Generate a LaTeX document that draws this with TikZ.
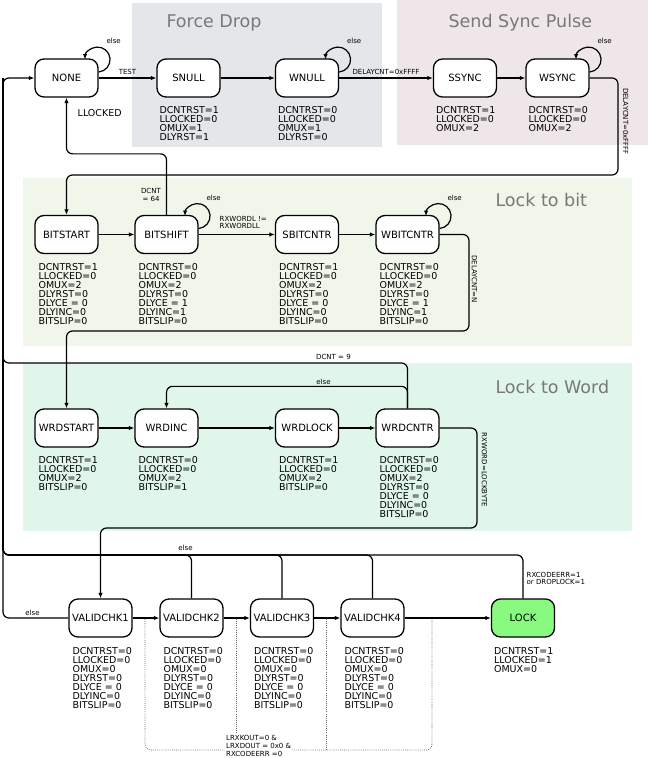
\documentclass[tikz,border=0pt]{standalone}
\usepackage{fontspec}
\setmainfont{DejaVu Sans}
\usetikzlibrary{arrows.meta,positioning,calc}
\definecolor{dropbg}{RGB}{227,231,234}
\definecolor{syncbg}{RGB}{239,230,233}
\definecolor{bitbg}{RGB}{241,246,234}
\definecolor{wordbg}{RGB}{224,246,235}
\definecolor{lockgreen}{RGB}{136,250,128}
\definecolor{titlegray}{RGB}{120,120,120}

\begin{document}
\begin{tikzpicture}[x=1pt,y=1pt,
    >={Latex[length=5.5pt,width=4.5pt]},
    statebox/.style={draw, fill=white, line width=1.3pt, rounded corners=9pt,
      minimum width=63pt, minimum height=38pt, inner sep=1pt,
      font=\fontsize{10}{12}\selectfont},
    attrs/.style={anchor=north west, align=left, inner sep=0pt,
      font=\fontsize{9.5}{9}\selectfont},
    lbl/.style={inner sep=0.5pt, font=\fontsize{7}{7.5}\selectfont},
    conn/.style={line width=1.2pt, rounded corners=6pt},
    cond/.style={draw=black!60, line width=0.7pt, dash pattern=on 0.8pt off 1.3pt, rounded corners=6pt},
    grouptitle/.style={anchor=base west, text=titlegray, font=\fontsize{17.5}{20}\selectfont}]
  \useasboundingbox (0,0) rectangle (648,-758);

  % groups
  \fill[dropbg] (132,-3) rectangle (382,-147);
  \fill[syncbg] (397,0) rectangle (648,-145);
  \fill[bitbg] (23,-178) rectangle (632,-346);
  \fill[wordbg] (23,-363) rectangle (632,-531);
  \node[grouptitle] (tdrop) at (163,-27) {Force Drop};
  \node[grouptitle] (tsync) at (445,-27) {Send Sync Pulse};
  \node[grouptitle] (tbit) at (492,-206) {Lock to bit};
  \node[grouptitle] (tword) at (492,-393) {Lock to Word};

  % states
  \node[statebox] (NONE) at (66.5,-78) {NONE};
  \node[statebox] (SNULL) at (188.5,-78) {SNULL};
  \node[statebox] (WNULL) at (307,-78) {WNULL};
  \node[statebox] (SSYNC) at (465,-78) {SSYNC};
  \node[statebox] (WSYNC) at (557.5,-78) {WSYNC};

  \node[statebox] (BITSTART) at (66.5,-234.5) {BITSTART};
  \node[statebox] (BITSHIFT) at (166.5,-234.5) {BITSHIFT};
  \node[statebox] (SBITCNTR) at (307,-234.5) {SBITCNTR};
  \node[statebox] (WBITCNTR) at (407.5,-234.5) {WBITCNTR};

  \node[statebox] (WRDSTART) at (66.5,-428) {WRDSTART};
  \node[statebox] (WRDINC) at (166.5,-428) {WRDINC};
  \node[statebox] (WRDLOCK) at (307,-428) {WRDLOCK};
  \node[statebox] (WRDCNTR) at (407.5,-428) {WRDCNTR};

  \node[statebox] (VALIDCHK1) at (100.5,-618) {VALIDCHK1};
  \node[statebox] (VALIDCHK2) at (191.5,-618) {VALIDCHK2};
  \node[statebox] (VALIDCHK3) at (282,-618) {VALIDCHK3};
  \node[statebox] (VALIDCHK4) at (372.5,-618) {VALIDCHK4};
  \node[statebox, fill=lockgreen] (LOCK) at (523,-618) {LOCK};

  % outputs
  \node[attrs] (SNULLout) at ([shift={(3,-9)}]SNULL.south west)
    {DCNTRST=1\\LLOCKED=0\\OMUX=1\\DLYRST=1};
  \node[attrs] (WNULLout) at ([shift={(3,-9)}]WNULL.south west)
    {DCNTRST=0\\LLOCKED=0\\OMUX=1\\DLYRST=0};
  \node[attrs] (SSYNCout) at ([shift={(3,-9)}]SSYNC.south west)
    {DCNTRST=1\\LLOCKED=0\\OMUX=2};
  \node[attrs] (WSYNCout) at ([shift={(3,-9)}]WSYNC.south west)
    {DCNTRST=0\\LLOCKED=0\\OMUX=2};

  \node[attrs] (BITSTARTout) at ([shift={(4,-9)}]BITSTART.south west)
    {DCNTRST=1\\LLOCKED=0\\OMUX=2\\DLYRST=0\\DLYCE = 0\\DLYINC=0\\BITSLIP=0};
  \node[attrs] (BITSHIFTout) at ([shift={(4,-9)}]BITSHIFT.south west)
    {DCNTRST=0\\LLOCKED=0\\OMUX=2\\DLYRST=0\\DLYCE = 1\\DLYINC=1\\BITSLIP=0};
  \node[attrs] (SBITCNTRout) at ([shift={(4,-9)}]SBITCNTR.south west)
    {DCNTRST=1\\LLOCKED=0\\OMUX=2\\DLYRST=0\\DLYCE = 0\\DLYINC=0\\BITSLIP=0};
  \node[attrs] (WBITCNTRout) at ([shift={(4,-9)}]WBITCNTR.south west)
    {DCNTRST=0\\LLOCKED=0\\OMUX=2\\DLYRST=0\\DLYCE = 1\\DLYINC=1\\BITSLIP=0};

  \node[attrs] (WRDSTARTout) at ([shift={(4,-9)}]WRDSTART.south west)
    {DCNTRST=1\\LLOCKED=0\\OMUX=2\\BITSLIP=0};
  \node[attrs] (WRDINCout) at ([shift={(4,-9)}]WRDINC.south west)
    {DCNTRST=0\\LLOCKED=0\\OMUX=2\\BITSLIP=1};
  \node[attrs] (WRDLOCKout) at ([shift={(4,-9)}]WRDLOCK.south west)
    {DCNTRST=1\\LLOCKED=0\\OMUX=2\\BITSLIP=0};
  \node[attrs] (WRDCNTRout) at ([shift={(4,-9)}]WRDCNTR.south west)
    {DCNTRST=0\\LLOCKED=0\\OMUX=2\\DLYRST=0\\DLYCE = 0\\DLYINC=0\\BITSLIP=0};

  \foreach \s in {VALIDCHK1,VALIDCHK2,VALIDCHK3,VALIDCHK4}
    \node[attrs] (\s out) at ([shift={(4,-9.5)}]\s.south west)
      {DCNTRST=0\\LLOCKED=0\\OMUX=0\\DLYRST=0\\DLYCE = 0\\DLYINC=0\\BITSLIP=0};
  \node[attrs] (LOCKout) at ([shift={(3,-9.5)}]LOCK.south west)
    {DCNTRST=1\\LLOCKED=1\\OMUX=0};

  % self loops
  \foreach \s in {NONE,WNULL,WSYNC,BITSHIFT,WBITCNTR} {
    \draw[conn,->] ([yshift=6]\s.east) arc[start angle=-85,end angle=180,radius=12.5];
    \node[lbl] (\s else) at ([shift={(15,17)}]\s.north east) {else};
  }

  % force drop / sync
  \draw[conn,->] (NONE) -- node[lbl, above=2.5pt] (ltest) {TEST} (SNULL);
  \draw[conn,->] (SNULL) -- (WNULL);
  \draw[conn,->] (WNULL) -- node[lbl, above=2.5pt] (ldelay) {DELAYCNT=0xFFFF} (SSYNC);
  \draw[conn,->] (SSYNC) -- (WSYNC);
  \coordinate (syncturn) at (618,-175);
  \draw[conn,->] (WSYNC.east) -| (syncturn) -| (BITSTART.north);
  \node[lbl, rotate=-90] (ldelay2) at (625.7,-121.5) {DELAYCNT=0xFFFF};

  % lock to bit
  \draw[conn,->] (BITSTART) -- (BITSHIFT);
  \draw[conn,->] (BITSHIFT) -- (SBITCNTR);
  \node[lbl, align=left, anchor=west] (lrxw) at (219,-222.5) {RXWORDL !=\\RXWORDLL};
  \draw[conn,->] (SBITCNTR) -- (WBITCNTR);
  \draw[conn,->] (BITSHIFT.north) -- ++(0,61) -| (NONE.south);
  \node[lbl, align=center] (ldcnt64) at (151,-195) {DCNT\\= 64};
  \node[attrs, anchor=center] (llocked) at (99.7,-113.5) {LLOCKED};
  \coordinate (bitturn) at (469,-331);
  \draw[conn,->] (WBITCNTR.east) -| (bitturn) -| (WRDSTART.north);
  \node[lbl, rotate=-90] (ldelayn) at (474.5,-279) {DELAYCNT=N};

  % lock to word
  \draw[conn,->] (WRDSTART) -- (WRDINC);
  \draw[conn,->] (WRDINC) -- (WRDLOCK);
  \draw[conn,->] (WRDLOCK) -- (WRDCNTR);
  \draw[conn,->] (WRDCNTR.north) -- ++(0,22) -| (WRDINC.north);
  \node[lbl] (lwelse) at (323.5,-381.5) {else};
  \coordinate (wordturn) at (477,-528);
  \draw[conn,->] (WRDCNTR.east) -| (wordturn) -| (VALIDCHK1.north);
  \node[lbl, rotate=-90] (lrxword) at (484.5,-470) {RXWORD=LOCKBYTE};

  % back to NONE
  \coordinate (rail) at (3,-78);
  \coordinate (dcntbar) at (3,-363);
  \coordinate (elsebar) at (3,-555);
  \draw[conn,->] (VALIDCHK1.west) -| (rail) -- (NONE.west);
  \node[lbl] (lv1else) at (32.5,-613) {else};
  \draw[conn] (WRDCNTR.north) |- (dcntbar) -- (rail);
  \node[lbl] (ldcnt9) at (333.5,-356.5) {DCNT = 9};
  \foreach \s in {VALIDCHK2,VALIDCHK3,VALIDCHK4,LOCK}
    \draw[conn] (\s.north) |- (elsebar) -- (rail);
  \node[lbl] (lvelse) at (185.5,-547.5) {else};
  \node[lbl, align=left, anchor=west] (lerr) at (526,-578.5) {RXCODEERR=1\\or DROPLOCK=1};

  % valid checks
  \draw[conn,->] (VALIDCHK1) -- (VALIDCHK2);
  \draw[conn,->] (VALIDCHK2) -- (VALIDCHK3);
  \draw[conn,->] (VALIDCHK3) -- (VALIDCHK4);
  \draw[conn,->] (VALIDCHK4) -- (LOCK);
  \coordinate (chk1) at (145,-619);
  \coordinate (chk2) at (236,-619);
  \coordinate (chk3) at (326,-619);
  \coordinate (chk4) at (432,-619);
  \draw[cond] (chk1) |- ($(chk4)+(0,-131)$) -- (chk4);
  \draw[cond] (chk2) -- ++(0,-131);
  \draw[cond] (chk3) -- ++(0,-131);
  \node[lbl, align=left, anchor=west, fill=white, inner sep=1pt,
    font=\fontsize{7}{8.3}\selectfont] (lcond) at (225,-746)
    {LRXKOUT=0 \&\\LRXDOUT = 0x0 \&\\RXCODEERR =0};
\end{tikzpicture}
\end{document}
